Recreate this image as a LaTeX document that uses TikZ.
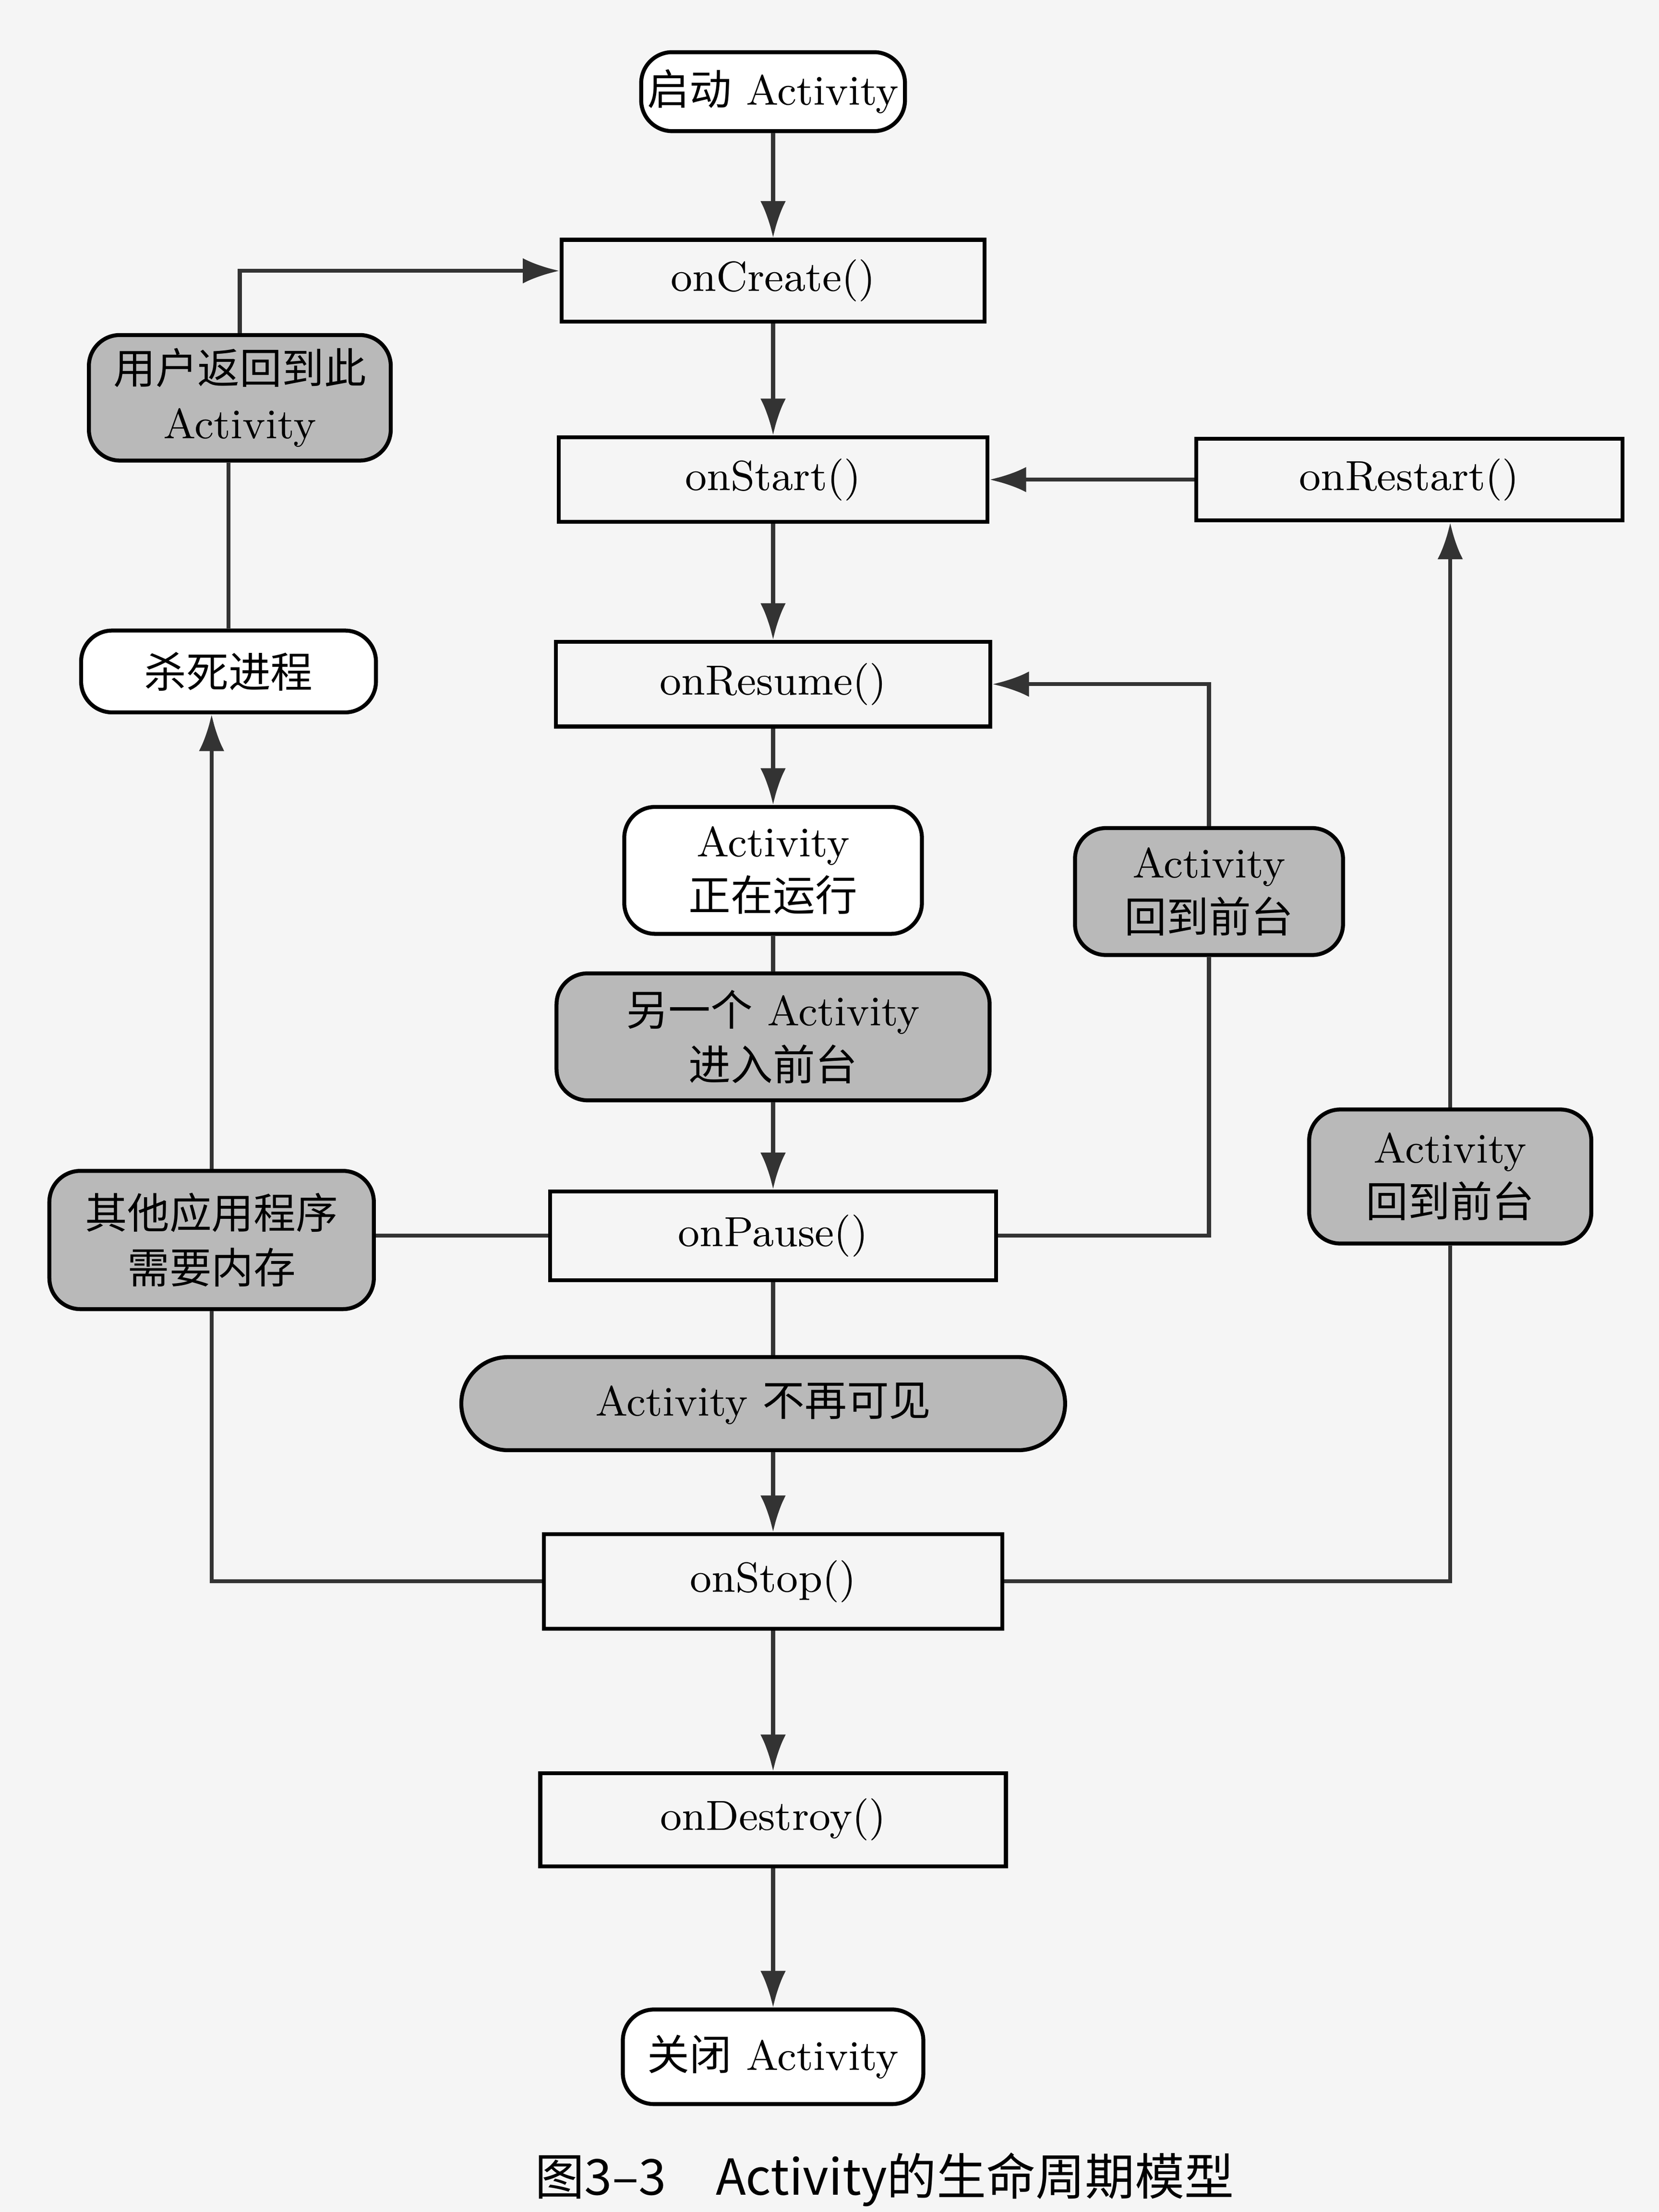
\documentclass[tikz,border=0pt]{standalone}
\usepackage{fontspec}
\newfontfamily\cjk{Noto Sans CJK SC}
\newfontfamily\capfont{Noto Sans CJK SC}
\newcommand{\zh}[1]{{\cjk #1}}
\usetikzlibrary{arrows.meta}

\begin{document}
\begin{tikzpicture}[>={Latex[length=2.6mm,width=1.8mm]},
    font=\fontsize{8.5}{11}\selectfont,
    stage/.style ={rectangle, draw, thick, inner sep = 0pt},
    event/.style ={rectangle, rounded corners=2.2mm, draw, thick, inner sep = 0pt, align=center, fill=gray!55},
    terminal/.style ={rectangle, rounded corners=2.2mm, draw, thick, inner sep = 0pt, align=center, fill=white},
    link/.style ={thick, draw=black!80}]
   \useasboundingbox[fill=gray!8] (0,0) rectangle (11.76,15.68);

   \node[terminal, minimum width=1.87cm, minimum height=0.56cm] (start) at (5.48,15.03) {\zh{启动} Activity};
   \node[stage, minimum width=3.00cm, minimum height=0.58cm] (create) at (5.48,13.69) {onCreate()};
   \node[stage, minimum width=3.04cm, minimum height=0.60cm] (startup) at (5.48,12.28) {onStart()};
   \node[stage, minimum width=3.02cm, minimum height=0.58cm] (restart) at (9.99,12.28) {onRestart()};
   \node[stage, minimum width=3.08cm, minimum height=0.60cm] (resume) at (5.48,10.83) {onResume()};
   \node[terminal, minimum width=2.11cm, minimum height=0.90cm] (running) at (5.48,9.51) {Activity\\\zh{正在运行}};
   \node[event, minimum width=3.07cm, minimum height=0.90cm] (other) at (5.48,8.33) {\zh{另一个} Activity\\\zh{进入前台}};
   \node[stage, minimum width=3.16cm, minimum height=0.63cm] (pause) at (5.48,6.92) {onPause()};
   \node[event, rounded corners=3.3mm, minimum width=4.28cm, minimum height=0.66cm] (hidden) at (5.41,5.73) {Activity \zh{不再可见}};
   \node[stage, minimum width=3.25cm, minimum height=0.67cm] (stop) at (5.48,4.47) {onStop()};
   \node[stage, minimum width=3.30cm, minimum height=0.66cm] (destroy) at (5.48,2.78) {onDestroy()};
   \node[terminal, minimum width=2.13cm, minimum height=0.67cm] (close) at (5.48,1.10) {\zh{关闭} Activity};

   \node[event, minimum width=2.14cm, minimum height=0.89cm] (back) at (1.70,12.86) {\zh{用户返回到此}\\Activity};
   \node[terminal, minimum width=2.09cm, minimum height=0.58cm] (kill) at (1.62,10.92) {\zh{杀死进程}};
   \node[event, minimum width=2.30cm, minimum height=0.98cm] (memory) at (1.50,6.89) {\zh{其他应用程序}\\\zh{需要内存}};
   \node[event, minimum width=1.90cm, minimum height=0.90cm] (front) at (8.57,9.36) {Activity\\\zh{回到前台}};
   \node[event, minimum width=2.00cm, minimum height=0.95cm] (front2) at (10.28,7.34) {Activity\\\zh{回到前台}};

   \node (caption) at (6.27,0.23) {\capfont\fontsize{10}{12}\selectfont 图3–3\quad Activity的生命周期模型};

   % main chain
   \draw[link,->] (start) -- (create);
   \draw[link,->] (create) -- (startup);
   \draw[link,->] (startup) -- (resume);
   \draw[link,->] (resume) -- (running);
   \draw[link] (running) -- (other);
   \draw[link,->] (other) -- (pause);
   \draw[link] (pause.south) -- (pause.south |- hidden.north);
   \draw[link,->] (stop.north |- hidden.south) -- (stop.north);
   \draw[link,->] (stop) -- (destroy);
   \draw[link,->] (destroy) -- (close);

   % right side
   \draw[link,->] (restart) -- (startup);
   \draw[link] (pause.east) -| (front.south);
   \draw[link,->] (front.north) |- (resume.east);
   \draw[link] (stop.east) -| (front2.south);
   \draw[link,->] (front2.north) -- (front2.north |- restart.south);

   % left side
   \draw[link] (pause.west) -- (pause.west -| memory.east);
   \draw[link,->] (memory.north) -- (memory.north |- kill.south);
   \draw[link] (kill.north) -- (kill.north |- back.south);
   \draw[link,->] (back.north) |- ([yshift=0.07cm]create.west);
   \draw[link] (stop.west) -| (memory.south);
\end{tikzpicture}
\end{document}
